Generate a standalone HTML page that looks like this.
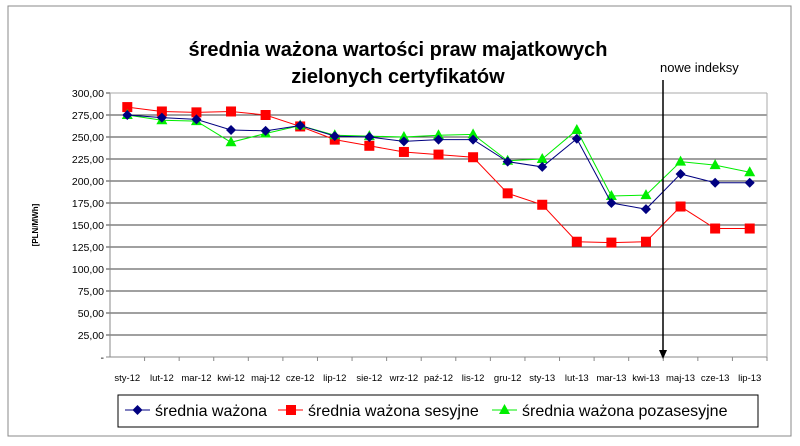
<!DOCTYPE html>
<html><head><meta charset="utf-8"><style>
body{margin:0;background:#fff;font-family:"Liberation Sans",sans-serif}
svg text{font-family:"Liberation Sans",sans-serif}
</style></head><body>
<svg width="800" height="441" viewBox="0 0 800 441">
<rect x="8" y="6" width="783" height="430" fill="#fff" stroke="#888"/>
<text x="398" y="56" text-anchor="middle" font-size="20" font-weight="bold">średnia ważona wartości praw majatkowych</text>
<text x="398" y="83" text-anchor="middle" font-size="20" font-weight="bold">zielonych certyfikatów</text>
<text transform="translate(38,225) rotate(-90)" text-anchor="middle" font-size="8" font-weight="bold">[PLN/MWh]</text>
<g id="grid"></g><g id="series"></g>
<line x1="663" y1="80" x2="663" y2="352" stroke="#000" stroke-width="1.5"/>
<polygon points="659,350 667,350 663,359" fill="#000"/>
<text x="660" y="72" font-size="13">nowe indeksy</text>
<rect x="118" y="395" width="640" height="32" fill="#fff" stroke="#000"/>
<g>
<line x1="125" y1="410" x2="150" y2="410" stroke="#000080"/><polygon points="137.5,405 142.5,410 137.5,415 132.5,410" fill="#000080"/>
<text x="155" y="416" font-size="16">średnia ważona</text></g>
<g>
<line x1="278" y1="410" x2="303" y2="410" stroke="#f00"/><rect x="286" y="405" width="10" height="10" fill="#f00"/>
<text x="308" y="416" font-size="16">średnia ważona sesyjne</text></g>
<g>
<line x1="492" y1="410" x2="517" y2="410" stroke="#0e0"/><polygon points="504.5,404 510,414 499,414" fill="#0e0"/>
<text x="522" y="416" font-size="16">średnia ważona pozasesyjne</text></g>
</svg>
<script>
const categories=["sty-12","lut-12","mar-12","kwi-12","maj-12","cze-12","lip-12","sie-12","wrz-12","paź-12","lis-12","gru-12","sty-13","lut-13","mar-13","kwi-13","maj-13","cze-13","lip-13"];
const sredniaWazona=[275,272,270,258,257,263,251,250,245,247,247,222,216,248,175,168,208,198,198];
const sredniaSesyjne=[284,279,278,279,275,262,247,240,233,230,227,186,173,131,130,131,171,146,146];
const sredniaPozasesyjne=[275,269,268,244,254,263,252,251,250,252,253,223,225,258,183,184,222,218,210];
const yTicks=[0,25,50,75,100,125,150,175,200,225,250,275,300];
const yTickLabels=["-","25,00","50,00","75,00","100,00","125,00","150,00","175,00","200,00","225,00","250,00","275,00","300,00"];
const NS="http://www.w3.org/2000/svg";
const X0=110,X1=767,Y0=357,Y1=93,YMAX=300;
const bw=(X1-X0)/categories.length;
const xs=i=>X0+bw*(i+0.5);
const ys=v=>Y0-(v/YMAX)*(Y0-Y1);
const grid=document.getElementById('grid'),ser=document.getElementById('series');
function mk(tag,a,p){const e=document.createElementNS(NS,tag);for(const k in a)e.setAttribute(k,a[k]);(p||grid).appendChild(e);return e;}
yTicks.forEach((t,i)=>{
 const l=mk('line',{x1:X0-4,x2:X1,y1:ys(t),y2:ys(t),stroke:t===0?'#888':'#000','stroke-width':t===0?1:0.8});
 
 
 const tx=mk('text',{x:X0-6,y:ys(t)+4,'text-anchor':'end','font-size':'10.5'});tx.textContent=yTickLabels[i];
 
 
});
const ya=mk('line',{x1:X0,x2:X0,y1:Y1,y2:Y0,stroke:'#888'});


const xr=mk('line',{x1:X1,x2:X1,y1:Y1,y2:Y0,stroke:'#aaa'});


const xt=mk('line',{x1:X0,x2:X1,y1:Y1,y2:Y1,stroke:'#aaa'});


categories.forEach((c,i)=>{
 const tk=mk('line',{x1:X0+bw*(i+1),x2:X0+bw*(i+1),y1:Y0,y2:Y0+4,stroke:'#888'});
 
 
 const t=mk('text',{x:xs(i),y:Y0+24,'text-anchor':'middle','font-size':'9.5'});t.textContent=c;
 
 
});
function series(vals,color,shape,name){
 const pl=mk('polyline',{points:vals.map((v,i)=>xs(i)+','+ys(v)).join(' '),fill:'none',stroke:color,'stroke-width':1},ser);
 
 
 vals.forEach((v,i)=>{const x=xs(i),y=ys(v);let m;
  if(shape==='d')m=mk('polygon',{points:`${x},${y-5} ${x+5},${y} ${x},${y+5} ${x-5},${y}`,fill:color},ser);
  else if(shape==='s')m=mk('rect',{x:x-5,y:y-5,width:10,height:10,fill:color},ser);
  else m=mk('polygon',{points:`${x},${y-6} ${x+5.5},${y+4} ${x-5.5},${y+4}`,fill:color},ser);
  
  
 });
}
series(sredniaSesyjne,'#f00','s','srednia-sesyjne');
series(sredniaPozasesyjne,'#0e0','t','srednia-pozasesyjne');
series(sredniaWazona,'#000080','d','srednia-wazona');
</script>
</body></html>
